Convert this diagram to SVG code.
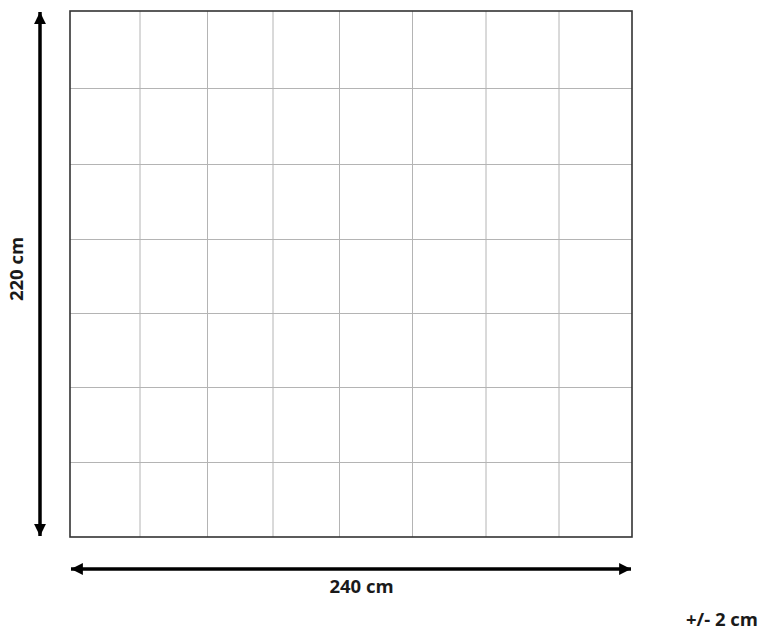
<svg xmlns="http://www.w3.org/2000/svg" width="766" height="638" viewBox="0 0 766 638">
<style>
.grid{stroke:#b4b4b4;stroke-width:1;fill:none}
.frame{stroke:#333;stroke-width:1.6;fill:none}
.dim{stroke:#000;stroke-width:3.5;fill:none}
.lbl{font-family:"Open Sans","Liberation Sans",sans-serif;font-weight:700;font-size:18.5px;fill:#1a1a1a}
</style>
<defs>
<marker id="ah" viewBox="0 0 10 10" refX="10" refY="5" markerWidth="3.4" markerHeight="3.4" orient="auto-start-reverse" markerUnits="strokeWidth">
<path d="M0,0 L10,5 L0,10 Z" fill="#000"/>
</marker>
</defs>
<rect width="766" height="638" fill="#fff"/>
<g id="grid">
<g class="grid">
<line x1="140" y1="11" x2="140" y2="537"/>
<line x1="207.5" y1="11" x2="207.5" y2="537"/>
<line x1="273" y1="11" x2="273" y2="537"/>
<line x1="339.5" y1="11" x2="339.5" y2="537"/>
<line x1="412.5" y1="11" x2="412.5" y2="537"/>
<line x1="486" y1="11" x2="486" y2="537"/>
<line x1="559" y1="11" x2="559" y2="537"/>
<line x1="70" y1="88.5" x2="632" y2="88.5"/>
<line x1="70" y1="164.5" x2="632" y2="164.5"/>
<line x1="70" y1="239.5" x2="632" y2="239.5"/>
<line x1="70" y1="313.5" x2="632" y2="313.5"/>
<line x1="70" y1="387.5" x2="632" y2="387.5"/>
<line x1="70" y1="462.5" x2="632" y2="462.5"/>
</g>
<rect class="frame" x="70" y="11" width="562" height="526"/>
</g>
<g id="connectors">
<line class="dim" x1="40" y1="12" x2="40" y2="536" marker-start="url(#ah)" marker-end="url(#ah)"/>
<line class="dim" x1="71" y1="569" x2="631" y2="569" marker-start="url(#ah)" marker-end="url(#ah)"/>
</g>
<g id="labels">
<text class="lbl" x="361.5" y="592.5" text-anchor="middle">240 cm</text>
<text class="lbl" transform="translate(23,269) rotate(-90)" text-anchor="middle">220 cm</text>
<text class="lbl" x="758" y="626" text-anchor="end">+/- 2 cm</text>
</g>
</svg>
